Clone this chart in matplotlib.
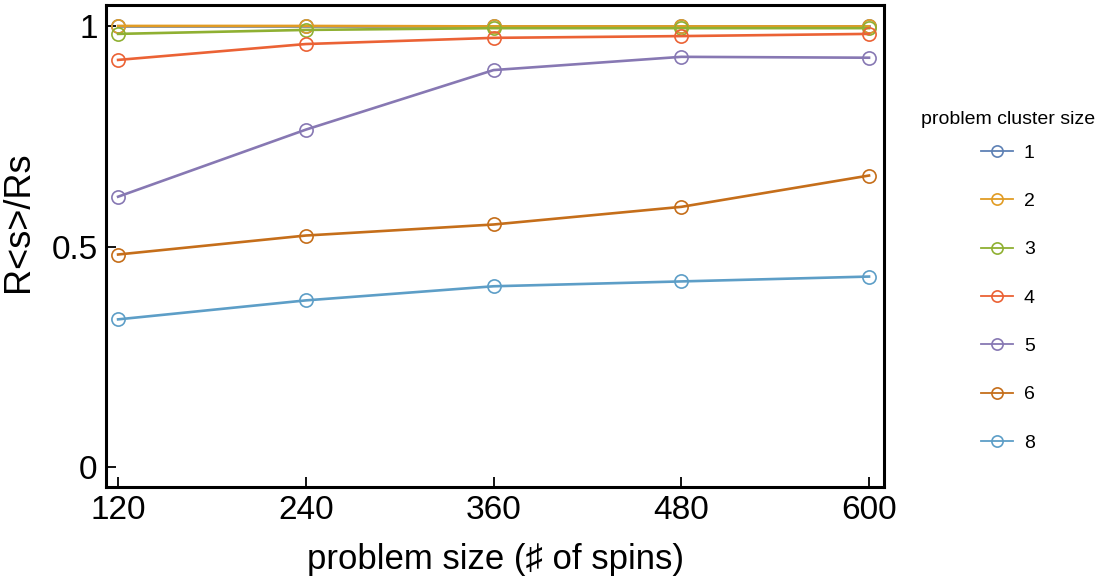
import matplotlib
matplotlib.use('Agg')
import matplotlib.pyplot as plt

# data
spins = [120, 240, 360, 480, 600]
cluster_labels = ['1', '2', '3', '4', '5', '6', '8']
ratio_1 = [1.0, 1.0, 1.0, 1.0, 1.0]
ratio_2 = [1.0, 1.0, 0.999, 0.999, 0.999]
ratio_3 = [0.982, 0.991, 0.995, 0.995, 0.995]
ratio_4 = [0.923, 0.959, 0.973, 0.977, 0.982]
ratio_5 = [0.613, 0.765, 0.900, 0.930, 0.928]
ratio_6 = [0.482, 0.525, 0.550, 0.590, 0.661]
ratio_8 = [0.335, 0.378, 0.410, 0.421, 0.432]
series = [ratio_1, ratio_2, ratio_3, ratio_4, ratio_5, ratio_6, ratio_8]

# mathematica default palette
colors = ['#5E81B5', '#E19C24', '#8FB032', '#EB6235', '#8778B3', '#C56E1A', '#5D9EC7']

plt.rcParams['font.family'] = ['Liberation Sans', 'DejaVu Sans']

fig = plt.figure(figsize=(11.07, 5.8), dpi=100)
ax = fig.add_axes([0.0958, 0.1603, 0.7028, 0.8311])

handles = []
for i in range(len(series)):
    h, = ax.plot(spins, series[i], color=colors[i], lw=1.9, marker='o', ms=9.5,
                 mfc='none', mec=colors[i], mew=1.2, zorder=3 + i * 0.1)
    handles.append(h)

ax.set_xlim(112.3, 609.6)
ax.set_ylim(-0.045, 1.0475)
ax.set_xticks(spins)
ax.set_yticks([0, 0.5, 1])
ax.set_yticklabels(['0', '0.5', '1'])
ax.tick_params(direction='in', length=7, width=1.3, labelsize=24, pad=6)
for s in ax.spines.values():
    s.set_linewidth(2.2)

ax.set_xlabel('problem size (\u266f of spins)', fontsize=25, labelpad=12)
ax.set_ylabel('R<s>/Rs', fontsize=26)
ax.yaxis.set_label_coords(-0.09, 0.55)

# legend title drawn separately so the gap to the first entry stays small
fig.text(0.9106, 1 - 120 / 580, 'problem cluster size', ha='center', va='center',
         fontsize=14)
leg = fig.legend(handles, cluster_labels,
                 loc='center', bbox_to_anchor=(0.9106, 1 - 298 / 580),
                 frameon=False, fontsize=14,
                 handlelength=1.65, labelspacing=1.58, handletextpad=0.55,
                 markerscale=0.85)
for lh in leg.legend_handles:
    lh.set_linewidth(1.3)

fig.savefig('out.png', dpi=100)
